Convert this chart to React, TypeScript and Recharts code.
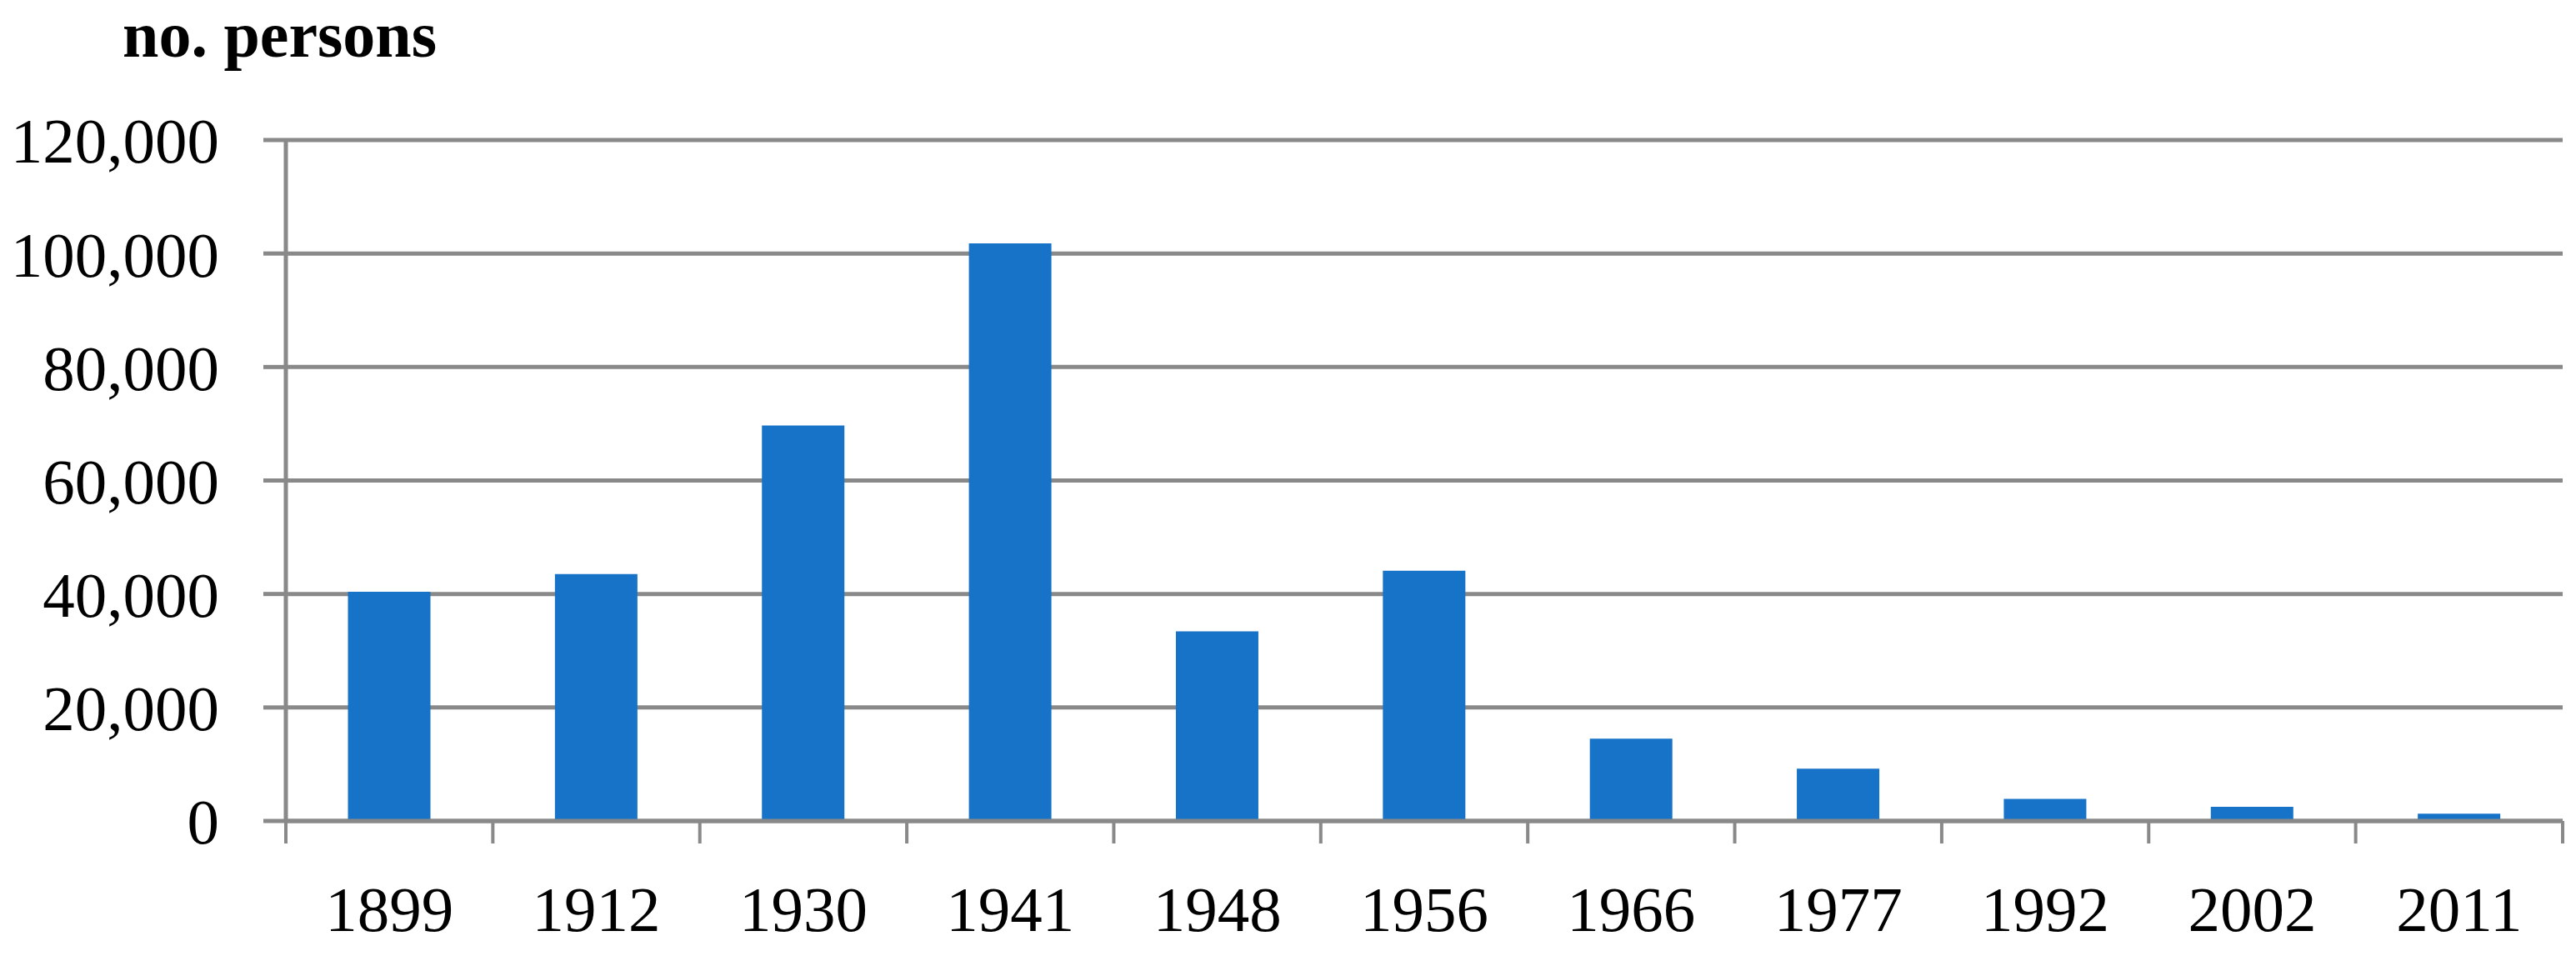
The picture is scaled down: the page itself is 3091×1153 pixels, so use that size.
import { BarChart, Bar, XAxis, YAxis, CartesianGrid } from 'recharts';

const years = ['1899', '1912', '1930', '1941', '1948', '1956', '1966', '1977', '1992', '2002', '2011'];
const persons = [40400, 43500, 69700, 101800, 33400, 44100, 14500, 9200, 3900, 2500, 1300];
const yTicks = [0, 20000, 40000, 60000, 80000, 100000, 120000];

const data = years.map((year, i) => ({ year, persons: persons[i] }));

const W = 3091;
const H = 1153;
const margin = { top: 168, right: 16, bottom: 0, left: 0 };
const yAxisWidth = 343;
const band = (W - margin.left - margin.right - yAxisWidth) / years.length;

const grey = '#898989';
const font = '"Liberation Serif", "Times New Roman", serif';

// x tick: label at the category centre, tick marks at the category boundaries
function YearTick(props: any) {
  const { x, y, payload, index } = props;
  const last = index === years.length - 1;
  return (
    <g>
      <line x1={x - band / 2} x2={x - band / 2} y1={y} y2={y + 27} stroke={grey} strokeWidth={4} />
      {last && <line x1={x + band / 2} x2={x + band / 2} y1={y} y2={y + 27} stroke={grey} strokeWidth={4} />}
      <text x={x} y={y + 77} dy="0.71em" textAnchor="middle" fill="#000" fontSize={77} fontFamily={font}>
        {payload.value}
      </text>
    </g>
  );
}

export default function App() {
  return (
    <div style={{ position: 'absolute', left: 0, top: 0, width: W, height: H, background: '#fff' }}>
      <div
        style={{
          position: 'absolute',
          left: 147,
          top: 3,
          fontFamily: font,
          fontWeight: 'bold',
          fontSize: 78,
          lineHeight: 1,
          color: '#000',
          whiteSpace: 'nowrap',
        }}
      >
        no. persons
      </div>
      <BarChart width={W} height={H} data={data} margin={margin} barCategoryGap="30%">
        <CartesianGrid vertical={false} stroke={grey} strokeWidth={5} />
        <XAxis
          dataKey="year"
          height={H - 985}
          axisLine={{ stroke: grey, strokeWidth: 5 }}
          tickLine={false}
          tickSize={0}
          tickMargin={0}
          interval={0}
          tick={<YearTick />}
        />
        <YAxis
          width={yAxisWidth}
          domain={[0, 120000]}
          ticks={yTicks}
          tickSize={27}
          tickMargin={53}
          tickFormatter={(v: number) => v.toLocaleString('en-US')}
          axisLine={{ stroke: grey, strokeWidth: 5 }}
          tickLine={{ stroke: grey, strokeWidth: 5 }}
          tick={{ fill: '#000', fontSize: 77, fontFamily: font }}
        />
        <Bar dataKey="persons" fill="#1773c8" isAnimationActive={false} />
      </BarChart>
    </div>
  );
}
